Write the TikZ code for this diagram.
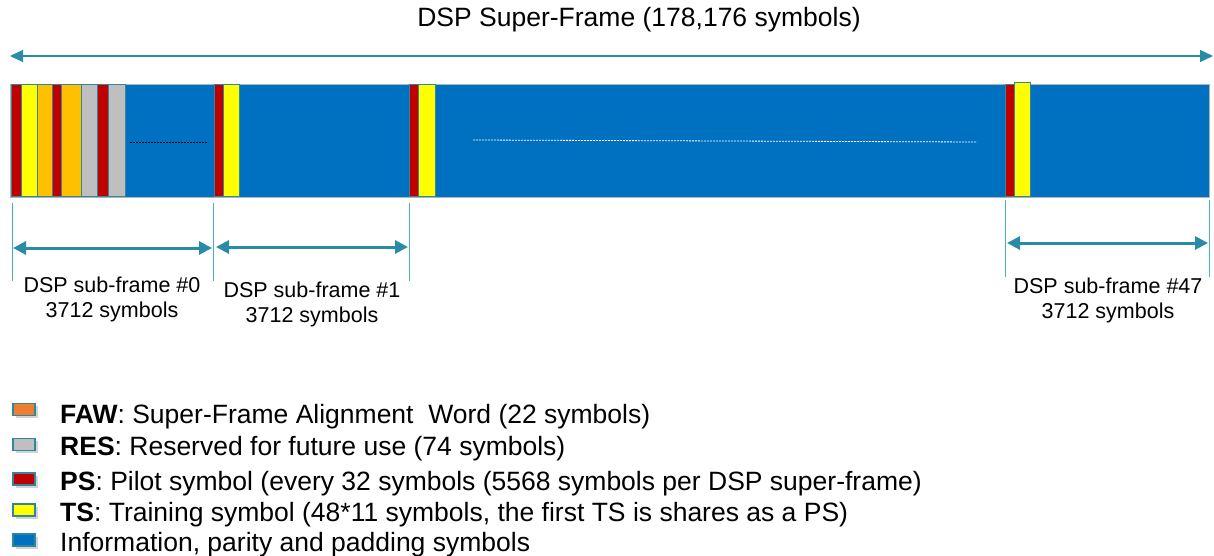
\documentclass[tikz,border=0pt]{standalone}
\usepackage{fontspec}
\setmainfont{Liberation Sans}
\usetikzlibrary{arrows.meta,shadows}

\definecolor{infoblue}{HTML}{0070C0}
\definecolor{pilotred}{HTML}{C00000}
\definecolor{trainyel}{HTML}{FFFF00}
\definecolor{fawamber}{HTML}{FFC000}
\definecolor{fawlegend}{HTML}{ED7D31}
\definecolor{resgray}{HTML}{BFBFBF}
\definecolor{edgeteal}{HTML}{31859C}
\definecolor{arrteal}{HTML}{2A8BA8}
\definecolor{lineteal}{HTML}{4BACC6}

\tikzset{
  slot/.style={draw=edgeteal,line width=0.8pt},
  tickline/.style={draw=lineteal,line width=0.9pt},
  subarrow/.style={draw=arrteal,line width=3pt,{Triangle[length=13pt,width=13pt]}-{Triangle[length=13pt,width=13pt]}},
  superarrow/.style={draw=arrteal,line width=1.3pt,{Triangle[length=13pt,width=12pt]}-{Triangle[length=13pt,width=12pt]}},
  legbox/.style={draw=edgeteal,line width=1.6pt,minimum width=22pt,minimum height=12pt,inner sep=0pt,
    drop shadow={shadow xshift=2.5pt,shadow yshift=-2.5pt,opacity=0.35}},
  legtext/.style={anchor=base west,inner sep=0pt,font=\fontsize{26.5}{30}\selectfont},
  sublabel/.style={align=center,inner sep=0pt,font=\fontsize{21.5}{25}\selectfont}
}

\begin{document}
\begin{tikzpicture}[x=1pt,y=-1pt]
\useasboundingbox (0,0) rectangle (1214,556);

% title and super-frame arrow
\node[inner sep=0pt,font=\fontsize{26.5}{30}\selectfont] (title) at (639,20) {DSP Super-Frame (178,176 symbols)};
\coordinate (SL) at (10,56);
\coordinate (SR) at (1213,56);
\draw[superarrow] (SL) -- (SR);

% the frame
\draw[fill=infoblue,draw=gray!60,line width=0.8pt] (10,84) rectangle (1209,197);

% sub-frame #0 : PS, TS, FAW, RES
\foreach \a/\b/\c in {11/21/pilotred,21/37/trainyel,37/52/fawamber,52/61/pilotred,
    61/81/fawamber,81/97/resgray,97/108/pilotred,108/125/resgray}
  \draw[slot,fill=\c] (\a,84.5) rectangle (\b,196.5);
\draw[black,line width=1pt,dash pattern=on 2pt off 1pt] (130,143) -- (208,143);

% sub-frames #1, #2, #47
\foreach \a in {214,409,1005}
{
  \draw[slot,fill=pilotred] (\a,84.5) rectangle (\a+9,196.5);
}
\draw[slot,fill=trainyel] (223,84.5) rectangle (239,196.5);
\draw[slot,fill=trainyel] (418,84.5) rectangle (435,196.5);
\draw[slot,fill=trainyel] (1014,82) rectangle (1030,196.5);
\draw[white,line width=0.8pt,dash pattern=on 2pt off 1pt] (473,140) -- (977,142);

% ticks and sub-frame arrows
\foreach \x in {12,213,409}
  \draw[tickline] (\x,203) -- (\x,281);
\foreach \x in {1005,1209}
  \draw[tickline] (\x,200) -- (\x,277);
\coordinate (A0) at (13,248);
\coordinate (B0) at (212,248);
\coordinate (A1) at (216,247);
\coordinate (B1) at (408,247);
\coordinate (A47) at (1007,243);
\coordinate (B47) at (1208,243);
\draw[subarrow] (A0) -- (B0);
\draw[subarrow] (A1) -- (B1);
\draw[subarrow] (A47) -- (B47);
\node[sublabel] (sub0) at (112,299) {DSP sub-frame \#0\\3712 symbols};
\node[sublabel] (sub1) at (312,304) {DSP sub-frame \#1\\3712 symbols};
\node[sublabel] (sub47) at (1108,300) {DSP sub-frame \#47\\3712 symbols};

% legend
\node[legbox,fill=fawlegend] (kfaw) at (24,409.5) {};
\node[legbox,fill=resgray] (kres) at (24,444.5) {};
\node[legbox,fill=pilotred] (kps) at (24,479) {};
\node[legbox,fill=trainyel] (kts) at (24,510) {};
\node[legbox,fill=infoblue] (kinfo) at (24,540) {};
\node[legtext] (tfaw) at (60,423) {\textbf{FAW}: Super-Frame Alignment\ \ Word (22 symbols)};
\node[legtext] (tres) at (60,455) {\textbf{RES}: Reserved for future use (74 symbols)};
\node[legtext] (tps) at (60,490) {\textbf{PS}: Pilot symbol (every 32 symbols (5568 symbols per DSP super-frame)};
\node[legtext] (tts) at (60,521) {\textbf{TS}: Training symbol (48*11 symbols, the first TS\ is shares as a PS)};
\node[legtext] (tinfo) at (60,551) {Information, parity and padding symbols};
\end{tikzpicture}
\end{document}
